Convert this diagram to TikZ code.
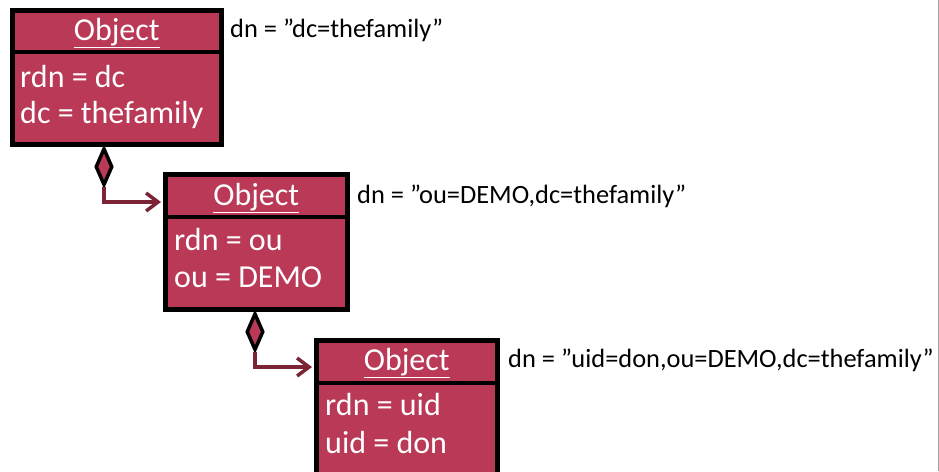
\documentclass[tikz,border=0pt]{standalone}
\usepackage{fontspec}
\setmainfont{Carlito}
\usetikzlibrary{arrows.meta,calc,shapes.geometric}

\definecolor{objfill}{RGB}{185,57,86}
\definecolor{linkred}{RGB}{122,36,54}
\definecolor{framegray}{RGB}{160,160,160}

\tikzset{
  x=1pt, y=-1pt,
  objbox/.style={draw=black, fill=objfill, line width=4.5pt, rectangle,
    anchor=north west, inner sep=0pt},
  objtitle/.style={text=white, font=\fontsize{32}{36}\selectfont,
    anchor=base, inner sep=0pt},
  objattr/.style={text=white, font=\fontsize{32}{36}\selectfont,
    anchor=base west, inner sep=0pt},
  dnlabel/.style={text=black, font=\fontsize{26.4}{30}\selectfont,
    anchor=base west, inner sep=0pt},
  owner/.style={diamond, draw=black, fill=objfill, line width=3.5pt,
    minimum width=17pt, minimum height=37pt, inner sep=0pt, anchor=north},
  link/.style={draw=linkred, line width=3.5pt,
    -{Straight Barb[length=12pt,width=18pt,line width=3.5pt]}},
}

\begin{document}
\begin{tikzpicture}
  \useasboundingbox (0,0) rectangle (939,471);
  \begin{scope}
    \clip (0,0) rectangle (939,471);

    % entry: dc=thefamily
    \node[objbox, minimum width=209pt, minimum height=134pt] (b1) at (10,8) {};
    \draw[line width=4.5pt] ($(b1.north west)+(0,44)$) -- ($(b1.north east)+(0,44)$);
    \node[objtitle] (t1) at ($(b1.north)+(0,32)$) {\underline{Object}};
    \node[objattr] (a1) at ($(b1.north west)+(10,79)$) {rdn = dc};
    \node[objattr] (c1) at ($(b1.north west)+(10,115)$) {dc = thefamily};
    \node[dnlabel] (n1) at (230,37) {dn = ”dc=thefamily”};

    % entry: ou=DEMO
    \node[objbox, minimum width=182pt, minimum height=135pt] (b2) at (163,172) {};
    \draw[line width=4.5pt] ($(b2.north west)+(0,45)$) -- ($(b2.north east)+(0,45)$);
    \node[objtitle] (t2) at ($(b2.north)+(0,33)$) {\underline{Object}};
    \node[objattr] (a2) at ($(b2.north west)+(11,78)$) {rdn = ou};
    \node[objattr] (c2) at ($(b2.north west)+(11,115)$) {ou = DEMO};
    \node[dnlabel] (n2) at (357,203) {dn = ”ou=DEMO,dc=thefamily”};

    % entry: uid=don
    \node[objbox, minimum width=181pt, minimum height=180pt] (b3) at (314,338) {};
    \draw[line width=4.5pt] ($(b3.north west)+(0,45)$) -- ($(b3.north east)+(0,45)$);
    \node[objtitle] (t3) at ($(b3.north)+(0,32)$) {\underline{Object}};
    \node[objattr] (a3) at ($(b3.north west)+(11,77)$) {rdn = uid};
    \node[objattr] (c3) at ($(b3.north west)+(11,115)$) {uid = don};
    \node[dnlabel] (n3) at (508,367) {dn = ”uid=don,ou=DEMO,dc=thefamily”};

    % containment links
    \node[owner] (d1) at ($(b1.south west)+(94,0)$) {};
    \draw[link] (d1.south) |- ($(b2.north west)+(-2,30)$);
    \node[owner] (d2) at ($(b2.south west)+(92,0)$) {};
    \draw[link] (d2.south) |- ($(b3.north west)+(-2,29)$);
  \end{scope}

  % page edge
  \draw[framegray, line width=1pt] (938,0) -- (938,471);
\end{tikzpicture}
\end{document}
